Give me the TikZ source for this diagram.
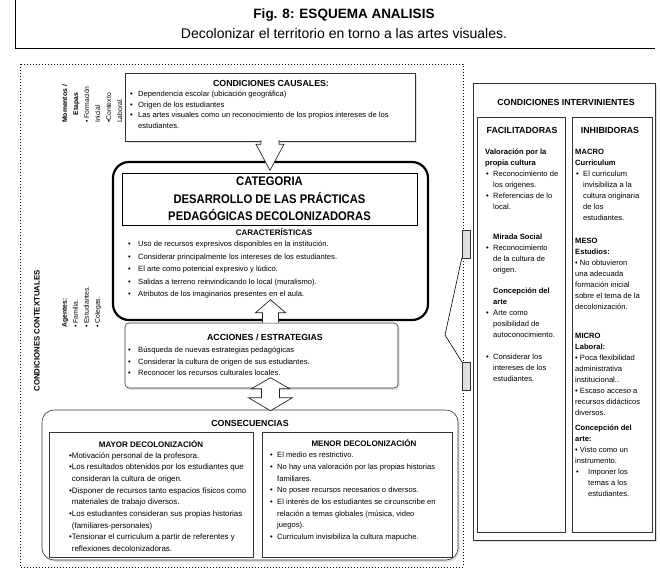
\documentclass[tikz,border=0pt]{standalone}
\usepackage{fontspec}
\setmainfont{Liberation Sans}
\newfontfamily\catfont{Liberation Sans}[FakeStretch=0.9]
\usepackage{tikz}
\usetikzlibrary{positioning,calc,shadows}
\tikzset{
  frame/.style={draw=black!80,line width=0.6pt,fill=white,inner sep=0pt},
  shadowed/.style={drop shadow={opacity=0.25,shadow xshift=1.6pt,shadow yshift=-1.8pt}},
  head/.style={font=\bfseries\fontsize{8.8}{10}\selectfont,inner sep=0pt,anchor=base},
  subhead/.style={font=\bfseries\fontsize{8}{10}\selectfont,inner sep=0pt,anchor=base},
  txt/.style={font=\fontsize{7.6}{10.5}\selectfont,align=left,inner sep=0pt,anchor=north west},
  side/.style={font=\fontsize{6.8}{11}\selectfont,align=left,inner sep=0pt,rotate=90,anchor=north west},
  blockarrow/.style={draw=black!85,fill=white,line width=0.7pt,line join=miter},
  tab/.style={draw=black!80,fill=black!12,line width=0.5pt,inner sep=0pt,minimum width=8pt,minimum height=28pt},
}
\newcommand{\itm}[1][8pt]{\makebox[#1][l]{\textbullet}}
\newcommand{\ind}[1][8pt]{\hspace*{#1}}

\begin{document}
\begin{tikzpicture}[x=1pt,y=-1pt]
\useasboundingbox (0,0) rectangle (660,574);
% title
\draw[line width=0.6pt] (15,0) -- (15,48) -- (655,48);
\node[font=\bfseries\fontsize{13.5}{16}\selectfont,anchor=base] (fig) at (344,18) {Fig. 8: ESQUEMA ANALISIS};
\node[font=\fontsize{14}{16}\selectfont,anchor=base] (sub) at (344,38) {Decolonizar el territorio en torno a las artes visuales.};

% contextual conditions
\draw[dotted,line width=1pt] (20,64) rectangle (463,567);
\node[rotate=90,font=\bfseries\fontsize{7.8}{10}\selectfont] (ctx) at (37,331) {CONDICIONES CONTEXTUALES};
\node[side,font=\bfseries\fontsize{6.8}{11}\selectfont,align=center] (mom) at (62,123) {Momentos /\\Etapas};
\node[side] (etapas) at (84,123) {\textbullet\ Formación\\Inicial\\\textbullet Contexto\\Laboral.};
\node[side] (agentes) at (62,328) {\textbf{Agentes:}\\\textbullet\ Familia.\\\textbullet\ Estudiantes.\\\textbullet\ Colegas.};

% causal conditions
\node[frame,shadowed,minimum width=290pt,minimum height=68pt] (causal) at (270,107) {};
\node[head] at (271,86) {CONDICIONES CAUSALES:};
\node[txt] at (130,91) {\itm Dependencia escolar (ubicación geográfica)\\
  \itm Origen de los estudiantes\\
  \itm Las artes visuales como un reconocimiento de los propios intereses de los\\
  \ind estudiantes.};

% category
\node[draw,line width=2.2pt,rounded corners=16pt,fill=white,minimum width=315pt,minimum height=158pt] (central) at (270.5,241) {};
\node[draw,line width=0.9pt,inner sep=0pt,minimum width=295pt,minimum height=52pt,align=center,
  font=\catfont\bfseries\fontsize{12.5}{17.5}\selectfont] (cat) at (269.5,199)
  {CATEGORIA\\DESARROLLO DE LAS PRÁCTICAS\\PEDAGÓGICAS DECOLONIZADORAS};
\node[subhead] at (274,235) {CARACTERÍSTICAS};
\node[txt,font=\fontsize{7.6}{12.5}\selectfont] at (128,241) {\itm[10pt]Uso de recursos expresivos disponibles en la institución.\\
  \itm[10pt]Considerar principalmente los intereses de los estudiantes.\\
  \itm[10pt]El arte como potencial expresivo y lúdico.\\
  \itm[10pt]Salidas a terreno reinvindicando lo local (muralismo).\\
  \itm[10pt]Atributos de los imaginarios presentes en el aula.};

% actions
\node[frame,shadowed,rounded corners=4pt,minimum width=273pt,minimum height=65pt] (acc) at (261.5,355.5) {};
\node[head] at (265,340) {ACCIONES / ESTRATEGIAS};
\node[txt,font=\fontsize{7.6}{11.5}\selectfont] at (128,347) {\itm[10pt]Búsqueda de nuevas estrategias pedagógicas\\
  \itm[10pt]Considerar la cultura de origen de sus estudiantes.\\
  \itm[10pt]Reconocer los recursos culturales locales.};

% consequences
\node[frame,shadowed,rounded corners=12pt,minimum width=416pt,minimum height=150pt] (cons) at (250,485) {};
\node[head] at (250,426) {CONSECUENCIAS};
\node[frame,minimum width=204pt,minimum height=125pt] (mayor) at (151,494.5) {};
\node[frame,minimum width=190pt,minimum height=125pt] (menor) at (357,494.5) {};
\node[subhead] at (151,447) {MAYOR DECOLONIZACIÓN};
\node[subhead] at (364,446) {MENOR DECOLONIZACIÓN};
\node[txt,font=\fontsize{7.9}{11.7}\selectfont] at (69,452) {\textbullet Motivación personal de la profesora.\\
  \textbullet Los resultados obtenidos por los estudiantes que\\
  \phantom{\textbullet}consideran la cultura de origen.\\
  \textbullet Disponer de recursos tanto espacios físicos como\\
  \phantom{\textbullet}materiales de trabajo diversos.\\
  \textbullet Los estudiantes consideran sus propias historias\\
  \phantom{\textbullet}(familiares-personales)\\
  \textbullet Tensionar el curriculum a partir de referentes y\\
  \phantom{\textbullet}reflexiones decolonizadoras.};
\node[txt,font=\fontsize{7.6}{11.7}\selectfont] at (270,452) {\itm[7pt]El medio es restrictivo.\\
  \itm[7pt]No hay una valoración por las propias historias\\
  \ind[7pt]familiares.\\
  \itm[7pt]No posee recursos necesarios o diversos.\\
  \itm[7pt]El interés de los estudiantes se circunscribe en\\
  \ind[7pt]relación a temas globales (música, video\\
  \ind[7pt]juegos).\\
  \itm[7pt]Curriculum invisibiliza la cultura mapuche.};

% intervening conditions
\node[frame,shadowed,minimum width=182pt,minimum height=457pt] (inter) at (564,311.5) {};
\node[head] at (566,105) {CONDICIONES INTERVINIENTES};
\node[frame,minimum width=88pt,minimum height=415pt] (fac) at (521,324.5) {};
\node[frame,minimum width=80pt,minimum height=415pt] (inh) at (612,324.5) {};
\node[head] at (522,133) {FACILITADORAS};
\node[head] at (610,133) {INHIBIDORAS};
\node[txt,font=\fontsize{7.6}{11}\selectfont] at (485,149) {\textbf{Valoración por la}\\
  \textbf{propia cultura}\\
  \ind[1pt]\itm[7pt]Reconocimiento de\\
  \ind[8pt]los origenes.\\
  \ind[1pt]\itm[7pt]Referencias de lo\\
  \ind[8pt]local.\\[19pt]
  \ind[8pt]\textbf{Mirada Social}\\
  \ind[1pt]\itm[7pt]Reconocimiento\\
  \ind[8pt]de la cultura de\\
  \ind[8pt]origen.\\[10pt]
  \ind[8pt]\textbf{Concepción del}\\
  \ind[8pt]\textbf{arte}\\
  \ind[1pt]\itm[7pt]Arte como\\
  \ind[8pt]posibilidad de\\
  \ind[8pt]autoconocimiento.\\[11pt]
  \ind[1pt]\itm[7pt]Considerar los\\
  \ind[8pt]intereses de los\\
  \ind[8pt]estudiantes.};
\node[txt,font=\fontsize{7.6}{11}\selectfont] at (575,149) {\textbf{MACRO}\\
  \textbf{Curriculum}\\
  \ind[1pt]\itm[7pt]El curriculum\\
  \ind[8pt]invisibiliza a la\\
  \ind[8pt]cultura originaria\\
  \ind[8pt]de los\\
  \ind[8pt]estudiantes.\\[12pt]
  \textbf{MESO}\\
  \textbf{Estudios:}\\
  \textbullet\ No obtuvieron\\
  una adecuada\\
  formación inicial\\
  sobre el tema de la\\
  decolonización.\\[18pt]
  \textbf{MICRO}\\
  \textbf{Laboral:}\\
  \textbullet\ Poca flexibilidad\\
  administrativa\\
  institucional..\\
  \textbullet\ Escaso acceso a\\
  recursos didácticos\\
  diversos.\\[4pt]
  \textbf{Concepción del}\\
  \textbf{arte:}\\
  \textbullet\ Visto como un\\
  instrumento.\\
  \ind[1pt]\itm[12pt]Imponer los\\
  \ind[13pt]temas a los\\
  \ind[13pt]estudiantes.};

% callout towards the panel
\node[tab] (tabup) at (466,244) {};
\node[tab] (tabdown) at (466,376) {};
\coordinate (tip) at (445,335);
\draw[line width=0.6pt] (tabup.south west) -- (tip) -- (tabdown.north west);

% block arrows
\draw[blockarrow] ($(causal.south)+(-9,-1.5)$) -- ++(0,4.5) -- ++(-5,0) -- ($(causal.south)+(0,29)$)
  -- ($(causal.south)+(14,3)$) -- ++(-5,0) -- ++(0,-4.5);
\coordinate (up) at ($(central.south |- acc.north)$);
\draw[blockarrow] ($(up)+(-8,0)$) -- ++(0,-10) -- ++(-7,0) -- ($(up)+(0,-23)$)
  -- ($(up)+(15,-10)$) -- ++(-7,0) -- ++(0,10);
\coordinate (both) at ($(central.south |- cons.north)$);
\draw[blockarrow] ($(both)+(0,1)$) -- ++(-22,-13) -- ++(13,0) -- ++(0,-9) -- ++(-10,0)
  -- ($(both)+(0,-32)$) -- ($(both)+(19,-21)$) -- ++(-10,0) -- ++(0,9) -- ++(13,0) -- cycle;
\end{tikzpicture}
\end{document}
